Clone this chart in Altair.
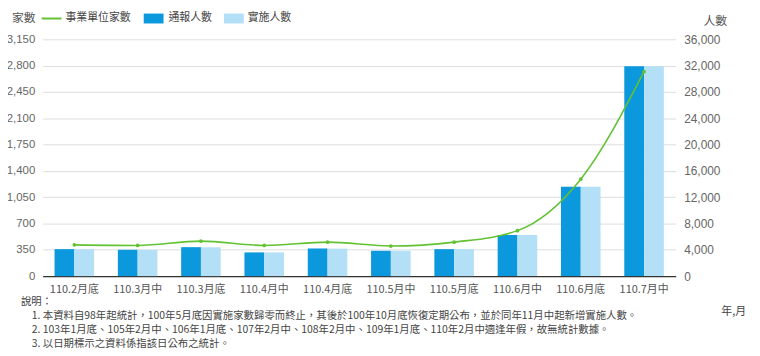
import altair as alt
import pandas as pd

categories = ['110.2月底', '110.3月中', '110.3月底', '110.4月中', '110.4月底',
              '110.5月中', '110.5月底', '110.6月中', '110.6月底', '110.7月中']
units = [416, 408, 465, 408, 452, 400, 452, 605, 1290, 2720]          # 事業單位家數
reported = [4100, 4000, 4400, 3600, 4200, 3850, 4100, 6250, 13600, 31900]    # 通報人數
implemented = [4080, 3980, 4380, 3600, 4180, 3850, 4100, 6250, 13600, 31900]  # 實施人數

left_ticks = [0, 350, 700, 1050, 1400, 1750, 2100, 2450, 2800, 3150]
right_ticks = [0, 4000, 8000, 12000, 16000, 20000, 24000, 28000, 32000, 36000]

notes = [
    '說明：',
    '1. 本資料自98年起統計，100年5月底因實施家數歸零而終止，其後於100年10月底恢復定期公布，並於同年11月中起新增實施人數。',
    '2. 103年1月底、105年2月中、106年1月底、107年2月中、108年2月中、109年1月底、110年2月中適逢年假，故無統計數據。',
    '3. 以日期標示之資料係指該日公布之統計。',
]

FONT = 'Noto Sans CJK TC'
NUMFONT = 'Liberation Sans'
DARK = '#0b98dc'
LIGHT = '#b4e0f7'
GREEN = '#62c232'

bars_df = pd.DataFrame({
    'cat': categories * 2,
    'series': ['通報人數'] * len(categories) + ['實施人數'] * len(categories),
    'value': reported + implemented,
})
line_df = pd.DataFrame({'cat': categories, 'units': units})

xenc = alt.X('cat:N', sort=categories,
             scale=alt.Scale(paddingInner=0.375, paddingOuter=0.1875),
             axis=alt.Axis(title=None, labelAngle=0, ticks=False, labelPadding=8,
                           labelFontSize=11, labelColor='#555', labelFont=FONT,
                           domainColor='#333', domainWidth=1.2, grid=False))

bars = alt.Chart(bars_df).mark_bar().encode(
    x=xenc,
    xOffset=alt.XOffset('series:N', sort=['通報人數', '實施人數'],
                        scale=alt.Scale(paddingInner=0, paddingOuter=0)),
    y=alt.Y('value:Q', scale=alt.Scale(domain=[0, 36000], nice=False),
            axis=alt.Axis(orient='right', values=right_ticks, format=',.0f', title=None,
                          grid=False, domain=False, ticks=False, labelPadding=8,
                          labelFontSize=12, labelColor='#666', labelFont=NUMFONT)),
    color=alt.Color('series:N', scale=alt.Scale(domain=['通報人數', '實施人數'],
                                                range=[DARK, LIGHT]), legend=None),
)

line = alt.Chart(line_df).mark_line(
    color=GREEN, strokeWidth=1.6, interpolate='monotone',
    point=alt.OverlayMarkDef(color=GREEN, filled=True, size=14)
).encode(
    x=alt.X('cat:N', sort=categories),
    y=alt.Y('units:Q', scale=alt.Scale(domain=[0, 3150], nice=False),
            axis=alt.Axis(orient='left', values=left_ticks, format=',.0f', title=None,
                          grid=True, gridColor='#dedede', domain=False, ticks=False,
                          labelPadding=8, labelFontSize=11.5, labelColor='#666',
                          labelFont=NUMFONT)),
)

def txt(s, x, y, size=11, color='#444', align='left'):
    return alt.Chart(pd.DataFrame({'t': [s]})).mark_text(
        align=align, baseline='middle', fontSize=size, color=color, font=FONT
    ).encode(text='t:N', x=alt.value(x), y=alt.value(y))

annots = [
    txt('家數', -31, -21, 12, '#555'),
    txt('人數', 667, -18, 12, '#555'),
    txt('事業單位家數', 23, -21, 11, '#444'),
    txt('通報人數', 127, -21, 11, '#444'),
    txt('實施人數', 207, -21, 11, '#444'),
    txt(notes[0], -22, 265, 10.5, '#444'),
    txt(notes[1], -11, 279.5, 10.5, '#444'),
    txt(notes[2], -11, 293.5, 10.5, '#444'),
    txt(notes[3], -11, 307.5, 10.5, '#444'),
    txt('年,月', 685, 275, 11, '#444'),
]

one = pd.DataFrame({'k': [0]})
leg_line = alt.Chart(one).mark_rule(color=GREEN, strokeWidth=2).encode(
    x=alt.value(-1), x2=alt.value(19), y=alt.value(-21))
leg_dark = alt.Chart(one).mark_rect(color=DARK).encode(
    x=alt.value(102), x2=alt.value(122), y=alt.value(-26), y2=alt.value(-16))
leg_light = alt.Chart(one).mark_rect(color=LIGHT).encode(
    x=alt.value(183), x2=alt.value(203), y=alt.value(-26), y2=alt.value(-16))

chart = alt.layer(bars, line, leg_line, leg_dark, leg_light, *annots).resolve_scale(
    y='independent'
).properties(
    width=639, height=239,
    padding={'left': 35, 'top': 30, 'right': 77, 'bottom': 76},
    autosize=alt.AutoSizeParams(type='none'),
).configure_view(stroke=None)

chart.save('out.html', embed_options={'renderer': 'svg', 'actions': False})
